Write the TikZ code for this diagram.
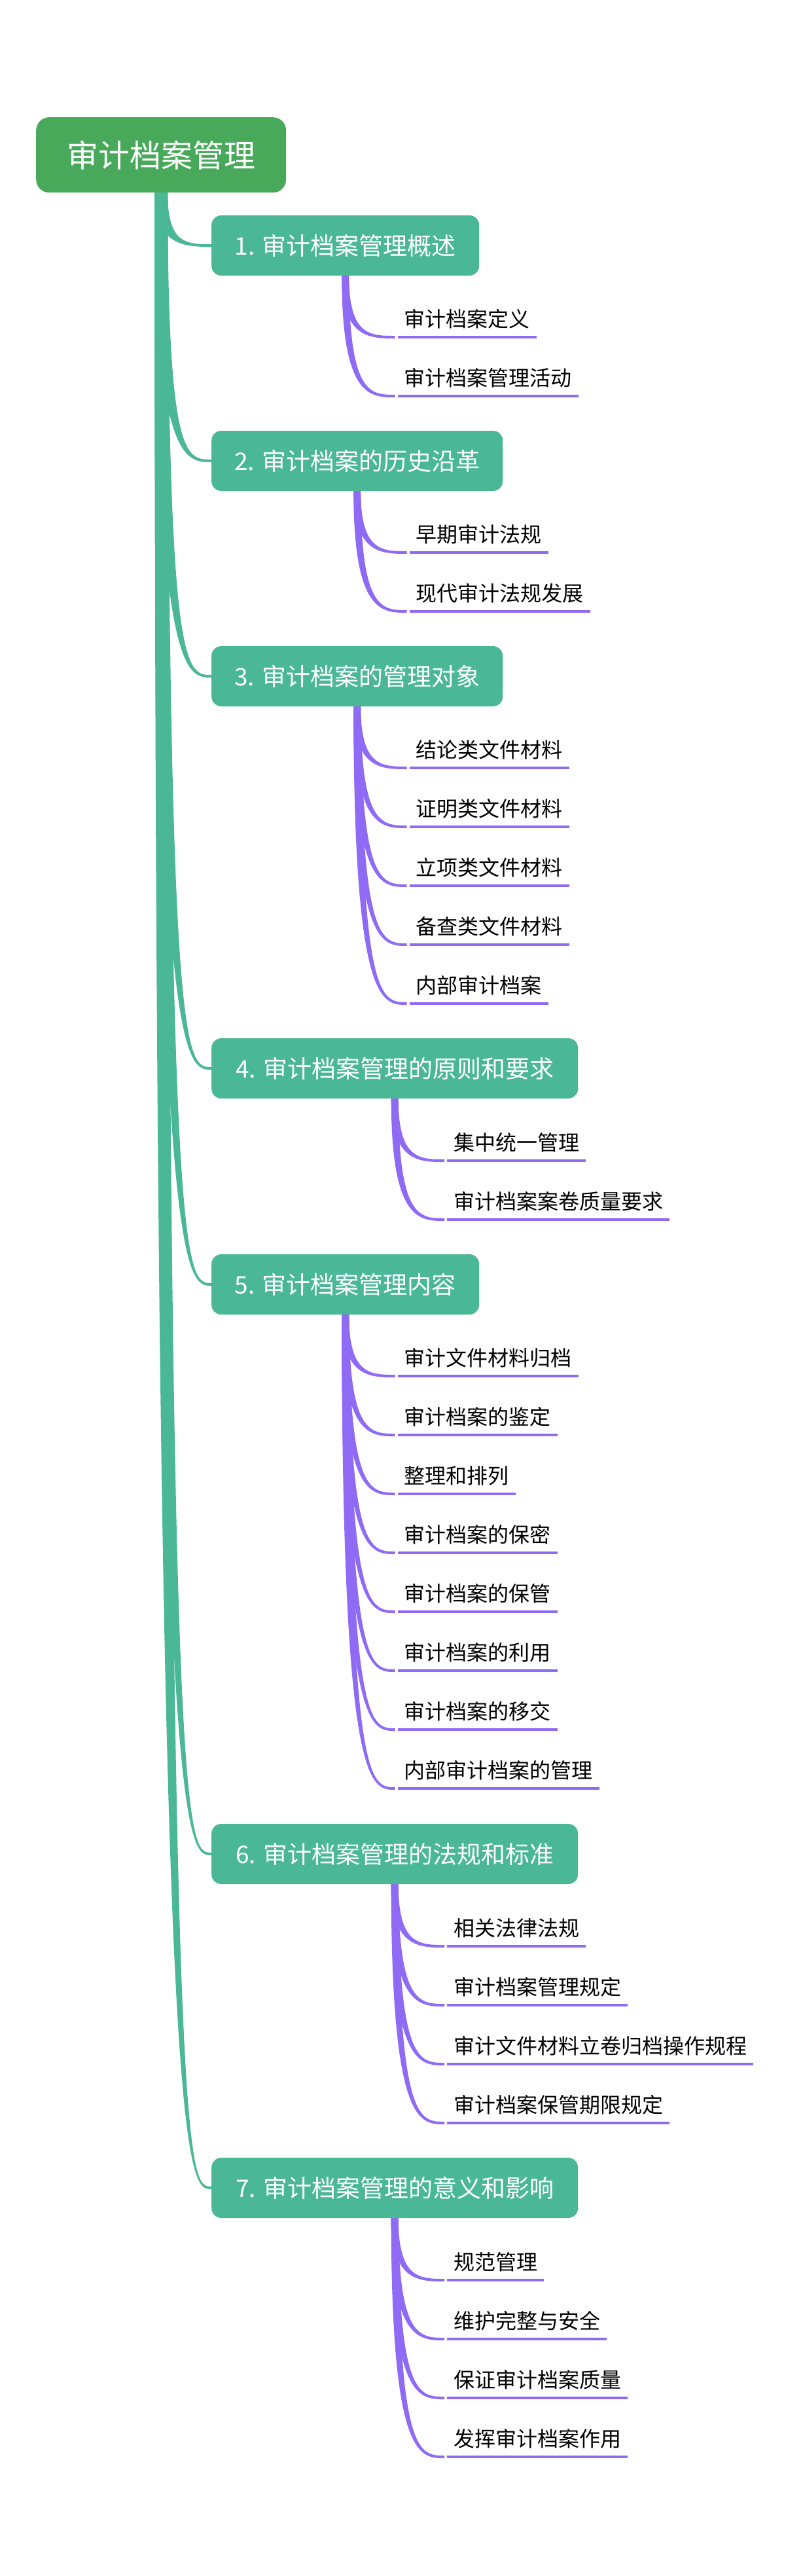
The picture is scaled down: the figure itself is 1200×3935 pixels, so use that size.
\documentclass[tikz,border=0pt]{standalone}
\usepackage{fontspec}
\setmainfont{Noto Sans CJK SC}
\usetikzlibrary{calc}
\definecolor{rootc}{HTML}{48A95B}
\definecolor{mainc}{HTML}{4AB796}
\definecolor{subc}{HTML}{8F6AF4}
\pgfdeclarelayer{back}
\pgfdeclarelayer{bg}
\pgfsetlayers{back,bg,main}
\tikzset{
  rootbox/.style={fill=rootc, rounded corners=20pt, text=white, font=\fontsize{48pt}{56pt}\selectfont, minimum width=382pt, minimum height=115pt, inner sep=0pt, anchor=north west},
  mainbox/.style={fill=mainc, rounded corners=15pt, text=white, font=\fontsize{37pt}{44pt}\selectfont, minimum height=92pt, inner sep=0pt, anchor=west},
  leaf/.style={font=\fontsize{32pt}{38pt}\selectfont, text=black, inner xsep=10pt, inner ysep=0pt, text height=26pt, text depth=15pt, anchor=south west},
  uline/.style={draw=subc, line width=4pt},
}
\newcommand{\taperlink}[5]{%
  \fill[#1] let \p1=(#2), \p2=(#3) in
  (\x1-#4/2,\y1) .. controls (\x1-#4/2,\y2-#5/2) and ({(\x1+\x2)/2},\y2-#5/2) .. (\x2,\y2-#5/2)
  -- (\x2,\y2+#5/2) .. controls ({(\x1+\x2)/2},\y2+#5/2) and (\x1+#4/2,\y2+#5/2) .. (\x1+#4/2,\y1) -- cycle;}
\begin{document}
\begin{tikzpicture}[x=1pt,y=-1pt]
\begin{pgfonlayer}{back}
\fill[white] (0,0) rectangle (1200,3935);
\end{pgfonlayer}
\useasboundingbox (0,0) rectangle (1200,3935);

\node[rootbox] (r) at (55,179) {审计档案管理};

\node[mainbox, minimum width=409pt] (b1) at (323,375) {1. 审计档案管理概述};
\node[mainbox, minimum width=445pt] (b2) at (323,704) {2. 审计档案的历史沿革};
\node[mainbox, minimum width=445pt] (b3) at (323,1033) {3. 审计档案的管理对象};
\node[mainbox, minimum width=560pt] (b4) at (323,1632) {4. 审计档案管理的原则和要求};
\node[mainbox, minimum width=409pt] (b5) at (323,1962) {5. 审计档案管理内容};
\node[mainbox, minimum width=560pt] (b6) at (323,2832) {6. 审计档案管理的法规和标准};
\node[mainbox, minimum width=560pt] (b7) at (323,3342) {7. 审计档案管理的意义和影响};

% leaves
\node[leaf] (s11) at (607.5,515) {审计档案定义};
\node[leaf] (s12) at (607.5,605) {审计档案管理活动};

\node[leaf] (s21) at (625.5,844) {早期审计法规};
\node[leaf] (s22) at (625.5,934) {现代审计法规发展};

\node[leaf] (s31) at (625.5,1173) {结论类文件材料};
\node[leaf] (s32) at (625.5,1263) {证明类文件材料};
\node[leaf] (s33) at (625.5,1353) {立项类文件材料};
\node[leaf] (s34) at (625.5,1443) {备查类文件材料};
\node[leaf] (s35) at (625.5,1533) {内部审计档案};

\node[leaf] (s41) at (683,1773) {集中统一管理};
\node[leaf] (s42) at (683,1863) {审计档案案卷质量要求};

\node[leaf] (s51) at (607.5,2102) {审计文件材料归档};
\node[leaf] (s52) at (607.5,2192) {审计档案的鉴定};
\node[leaf] (s53) at (607.5,2282) {整理和排列};
\node[leaf] (s54) at (607.5,2372) {审计档案的保密};
\node[leaf] (s55) at (607.5,2462) {审计档案的保管};
\node[leaf] (s56) at (607.5,2552) {审计档案的利用};
\node[leaf] (s57) at (607.5,2642) {审计档案的移交};
\node[leaf] (s58) at (607.5,2732) {内部审计档案的管理};

\node[leaf] (s61) at (683,2973) {相关法律法规};
\node[leaf] (s62) at (683,3063) {审计档案管理规定};
\node[leaf] (s63) at (683,3153) {审计文件材料立卷归档操作规程};
\node[leaf] (s64) at (683,3243) {审计档案保管期限规定};

\node[leaf] (s71) at (683,3483) {规范管理};
\node[leaf] (s72) at (683,3573) {维护完整与安全};
\node[leaf] (s73) at (683,3663) {保证审计档案质量};
\node[leaf] (s74) at (683,3753) {发挥审计档案作用};

\begin{pgfonlayer}{bg}
% main branches
\foreach \b in {b1,b2,b3,b4,b5,b6,b7} {\taperlink{mainc}{r.south}{\b.west}{20pt}{4pt}}
% sub branches
\foreach \s in {s11,s12} {\taperlink{subc}{b1.south}{[xshift=-4pt]\s.south west}{11pt}{4pt}}
\foreach \s in {s21,s22} {\taperlink{subc}{b2.south}{[xshift=-4pt]\s.south west}{11pt}{4pt}}
\foreach \s in {s31,s32,s33,s34,s35} {\taperlink{subc}{b3.south}{[xshift=-4pt]\s.south west}{11pt}{4pt}}
\foreach \s in {s41,s42} {\taperlink{subc}{b4.south}{[xshift=-4pt]\s.south west}{11pt}{4pt}}
\foreach \s in {s51,s52,s53,s54,s55,s56,s57,s58} {\taperlink{subc}{b5.south}{[xshift=-4pt]\s.south west}{11pt}{4pt}}
\foreach \s in {s61,s62,s63,s64} {\taperlink{subc}{b6.south}{[xshift=-4pt]\s.south west}{11pt}{4pt}}
\foreach \s in {s71,s72,s73,s74} {\taperlink{subc}{b7.south}{[xshift=-4pt]\s.south west}{11pt}{4pt}}
\end{pgfonlayer}

% underlines
\foreach \s in {s11,s12,s21,s22,s31,s32,s33,s34,s35,s41,s42,s51,s52,s53,s54,s55,s56,s57,s58,s61,s62,s63,s64,s71,s72,s73,s74}
  {\draw[uline] (\s.south west) -- (\s.south east);}
\end{tikzpicture}
\end{document}
